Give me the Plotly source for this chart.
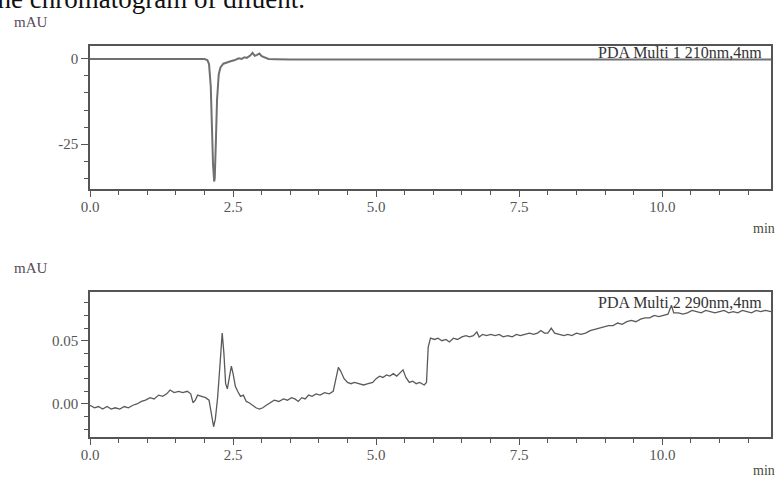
import plotly.graph_objects as go

# ---- data ----
t_top = [0.0, 1.9, 2.0, 2.05, 2.08, 2.11, 2.13, 2.15, 2.17, 2.18, 2.20, 2.22, 2.25, 2.28, 2.33,
         2.40, 2.47, 2.52, 2.56, 2.60, 2.65, 2.70, 2.74, 2.80, 2.84, 2.88, 2.92, 2.96, 3.00,
         3.05, 3.12, 3.25, 3.5, 11.9]
v_top = [0, 0, 0, -0.3, -1.5, -8, -20, -31, -36, -35, -24, -12, -4.5, -2.5, -1.4,
         -0.9, -0.6, -0.4, -0.1, 0.2, 0.0, 0.5, 0.3, 1.0, 1.8, 0.9, 1.2, 1.6, 0.8,
         0.4, 0.0, -0.1, -0.2, -0.2]

t_bot = [0.00, 0.08, 0.15, 0.22, 0.30, 0.37, 0.44, 0.52, 0.60, 0.67, 0.75, 0.82, 0.90, 0.97,
         1.05, 1.12, 1.20, 1.27, 1.34, 1.40, 1.47, 1.55, 1.62, 1.70, 1.76, 1.80, 1.84, 1.88,
         1.95, 2.02, 2.08, 2.12, 2.16, 2.19, 2.23, 2.27, 2.31, 2.34, 2.37, 2.40, 2.44, 2.47,
         2.50, 2.54, 2.58, 2.63, 2.68, 2.73, 2.78, 2.84, 2.90, 2.96, 3.02, 3.08, 3.15, 3.22,
         3.30, 3.38, 3.45, 3.52, 3.58, 3.64, 3.70, 3.76, 3.82, 3.88, 3.95, 4.02, 4.10, 4.18,
         4.25, 4.30, 4.34, 4.38, 4.44, 4.50, 4.56, 4.62, 4.70, 4.78, 4.86, 4.94, 5.00, 5.06,
         5.12, 5.18, 5.24, 5.30, 5.36, 5.42, 5.47, 5.52, 5.58, 5.64, 5.70, 5.76, 5.84, 5.88,
         5.91, 5.95, 6.02, 6.08, 6.15, 6.22, 6.28, 6.35, 6.42, 6.50, 6.57, 6.63, 6.70, 6.76,
         6.80, 6.86, 6.93, 7.00, 7.08, 7.15, 7.22, 7.30, 7.38, 7.45, 7.52, 7.60, 7.68, 7.75,
         7.82, 7.88, 7.94, 8.00, 8.06, 8.12, 8.20, 8.28, 8.35, 8.42, 8.50, 8.58, 8.66, 8.74,
         8.82, 8.90, 8.98, 9.06, 9.14, 9.22, 9.30, 9.38, 9.46, 9.54, 9.62, 9.70, 9.78, 9.86,
         9.94, 10.02, 10.10, 10.16, 10.20, 10.28, 10.36, 10.44, 10.52, 10.60, 10.68, 10.76,
         10.84, 10.92, 11.00, 11.08, 11.16, 11.24, 11.32, 11.40, 11.48, 11.56, 11.64, 11.72,
         11.80, 11.90]
v_bot = [-0.001, -0.003, -0.002, -0.004, -0.002, -0.004, -0.003, -0.004, -0.002, -0.003,
         -0.001, 0.000, 0.002, 0.003, 0.005, 0.004, 0.007, 0.006, 0.008, 0.011, 0.009, 0.010,
         0.009, 0.010, 0.008, 0.001, 0.003, 0.007, 0.006, 0.005, 0.003, -0.006, -0.018,
         -0.012, 0.005, 0.030, 0.056, 0.040, 0.016, 0.012, 0.022, 0.030, 0.024, 0.014, 0.010,
         0.006, 0.007, 0.002, 0.001, -0.001, -0.003, -0.004, -0.003, -0.001, 0.001, 0.003,
         0.002, 0.004, 0.003, 0.005, 0.004, 0.002, 0.005, 0.004, 0.007, 0.006, 0.008, 0.007,
         0.009, 0.008, 0.010, 0.020, 0.029, 0.026, 0.020, 0.017, 0.016, 0.017, 0.016, 0.015,
         0.016, 0.017, 0.020, 0.022, 0.021, 0.023, 0.022, 0.024, 0.022, 0.025, 0.027, 0.021,
         0.017, 0.018, 0.016, 0.017, 0.015, 0.017, 0.045, 0.052, 0.051, 0.052, 0.050, 0.051,
         0.049, 0.052, 0.051, 0.053, 0.054, 0.053, 0.054, 0.057, 0.053, 0.055, 0.054, 0.055,
         0.054, 0.055, 0.053, 0.054, 0.053, 0.055, 0.054, 0.055, 0.056, 0.055, 0.056, 0.058,
         0.056, 0.056, 0.060, 0.056, 0.055, 0.054, 0.055, 0.054, 0.056, 0.055, 0.056, 0.058,
         0.059, 0.060, 0.061, 0.062, 0.062, 0.064, 0.063, 0.065, 0.066, 0.065, 0.067, 0.068,
         0.068, 0.070, 0.069, 0.070, 0.071, 0.078, 0.072, 0.072, 0.071, 0.072, 0.074, 0.073,
         0.072, 0.074, 0.073, 0.072, 0.073, 0.074, 0.072, 0.073, 0.072, 0.074, 0.073, 0.072,
         0.074, 0.073, 0.074, 0.073]

x_ticks = [0.0, 2.5, 5.0, 7.5, 10.0]
x_tick_labels = ["0.0", "2.5", "5.0", "7.5", "10.0"]
y1_ticks = [0, -25]
y1_tick_labels = ["0", "-25"]
y2_ticks = [0.0, 0.05]
y2_tick_labels = ["0.00", "0.05"]

W, H = 775, 480
def px(x):
    return x / W
def py(y):
    return 1 - y / H

SERIF = "Liberation Serif"
axcol = "#555555"

fig = go.Figure()
fig.add_trace(go.Scatter(x=t_top, y=v_top, mode="lines", xaxis="x", yaxis="y",
                         line=dict(color="#707070", width=2), showlegend=False))
fig.add_trace(go.Scatter(x=t_bot, y=v_bot, mode="lines", xaxis="x2", yaxis="y2",
                         line=dict(color="#5a5a5a", width=1.3), showlegend=False))

xcommon = dict(range=[0, 11.9], tickmode="array", tickvals=x_ticks, ticktext=x_tick_labels,
               ticks="outside", ticklen=6, tickwidth=1, tickcolor=axcol,
               showline=True, linecolor=axcol, linewidth=1.5, mirror=True,
               showgrid=False, zeroline=False, automargin=False, ticklabelstandoff=-3,
               tickfont=dict(family=SERIF, size=15, color="#555555"),
               minor=dict(dtick=0.5, tick0=0, ticks="outside", ticklen=4, tickcolor=axcol, showgrid=False))
dom_x = [px(90), px(771)]

ycommon = dict(ticks="outside", ticklen=7, tickcolor=axcol,
               showline=True, linecolor=axcol, linewidth=1.5, mirror=True,
               showgrid=False, zeroline=False, automargin=False,
               tickfont=dict(family=SERIF, size=15, color="#555555"))

fig.update_layout(
    width=W, height=H, margin=dict(l=0, r=0, t=0, b=0, autoexpand=False),
    paper_bgcolor="white", plot_bgcolor="white",
    xaxis=dict(domain=dom_x, anchor="y", **xcommon),
    xaxis2=dict(domain=dom_x, anchor="y2", **xcommon),
    yaxis=dict(domain=[py(189), py(46)], anchor="x", range=[-38.2, 3.8],
               tickmode="array", tickvals=y1_ticks, ticktext=y1_tick_labels,
               minor=dict(dtick=5, tick0=0, ticks="outside", ticklen=4, tickcolor=axcol, showgrid=False),
               **ycommon),
    yaxis2=dict(domain=[py(437), py(292)], anchor="x2", range=[-0.0261, 0.0885],
                tickmode="array", tickvals=y2_ticks, ticktext=y2_tick_labels,
                minor=dict(dtick=0.01, tick0=0, ticks="outside", ticklen=4, tickcolor=axcol, showgrid=False),
                **ycommon),
)

def ann(text, x, y, size, color, xanchor="left", yanchor="middle"):
    fig.add_annotation(text=text, x=px(x), y=py(y), xref="paper", yref="paper",
                       xanchor=xanchor, yanchor=yanchor, showarrow=False,
                       font=dict(family=SERIF, size=size, color=color))

# cropped caption line at the very top
ann("the chromatogram of diluent.", -12, -1, 27, "#111111")
ann("mAU", 12, 22, 15, "#5a4a5a")
ann("mAU", 12, 268, 15, "#5a4a5a")
ann("PDA Multi 1 210nm,4nm", 596, 53, 16, "#333333")
ann("PDA Multi 2 290nm,4nm", 596, 302, 16, "#333333")
ann("min", 777, 228, 14, "#4a4a3a", xanchor="right")
ann("min", 777, 470, 14, "#4a4a3a", xanchor="right")

fig.write_html("out.html", config={"displayModeBar": False},
               post_script="document.body.style.margin='0';")
